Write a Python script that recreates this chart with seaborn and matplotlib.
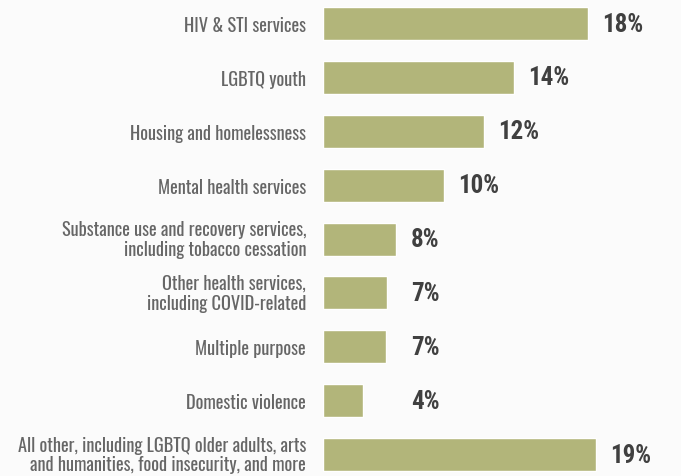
import matplotlib
matplotlib.use("Agg")
import matplotlib.pyplot as plt
import seaborn as sns
import pandas as pd

# categories, top to bottom
categories = [
    "HIV & STI services",
    "LGBTQ youth",
    "Housing and homelessness",
    "Mental health services",
    "Substance use and recovery services,\nincluding tobacco cessation",
    "Other health services,\nincluding COVID-related",
    "Multiple purpose",
    "Domestic violence",
    "All other, including LGBTQ older adults, arts\nand humanities, food insecurity, and more",
]
# bar lengths as drawn in the picture (percent)
bar_lengths = [18.4, 13.3, 11.2, 8.4, 5.1, 4.45, 4.4, 2.8, 19.0]
# printed labels
value_labels = ["18%", "14%", "12%", "10%", "8%", "7%", "7%", "4%", "19%"]

df = pd.DataFrame({"category": categories, "share": bar_lengths})

sns.set_theme(style="white")
plt.rcParams["font.family"] = ["Oswald", "Roboto Condensed", "DejaVu Sans"]

bg = "#fbfbfb"
bar_color = "#b2b57a"

fig = plt.figure(figsize=(6.81, 4.77), dpi=100, facecolor=bg)
ax = fig.add_axes([323 / 681, -5.5 / 477, 345 / 681, 484.9 / 477])
ax.set_facecolor(bg)

sns.barplot(data=df, x="share", y="category", color=bar_color, saturation=1,
            width=0.6125, ax=ax)

ax.set_xlim(0, 24)
ax.set_ylim(8.5, -0.5)
ax.set_xlabel("")
ax.set_ylabel("")
ax.set_xticks([])
sns.despine(ax=ax, left=True, bottom=True)
ax.tick_params(axis="y", length=0, pad=12.2, labelsize=13.2, labelcolor="#666666")
for lbl in ax.get_yticklabels():
    if "\n" in lbl.get_text():
        lbl.set_linespacing(1.12)
        lbl.set_va("center")

for i, (v, txt) in enumerate(zip(bar_lengths, value_labels)):
    ax.text(max(v + 1.0, 6.12), i, txt, va="center", ha="left",
            fontsize=18, fontweight="bold", color="#404040",
            family=["Roboto Condensed", "DejaVu Sans"])

fig.savefig("out.png", dpi=100, facecolor=bg)
